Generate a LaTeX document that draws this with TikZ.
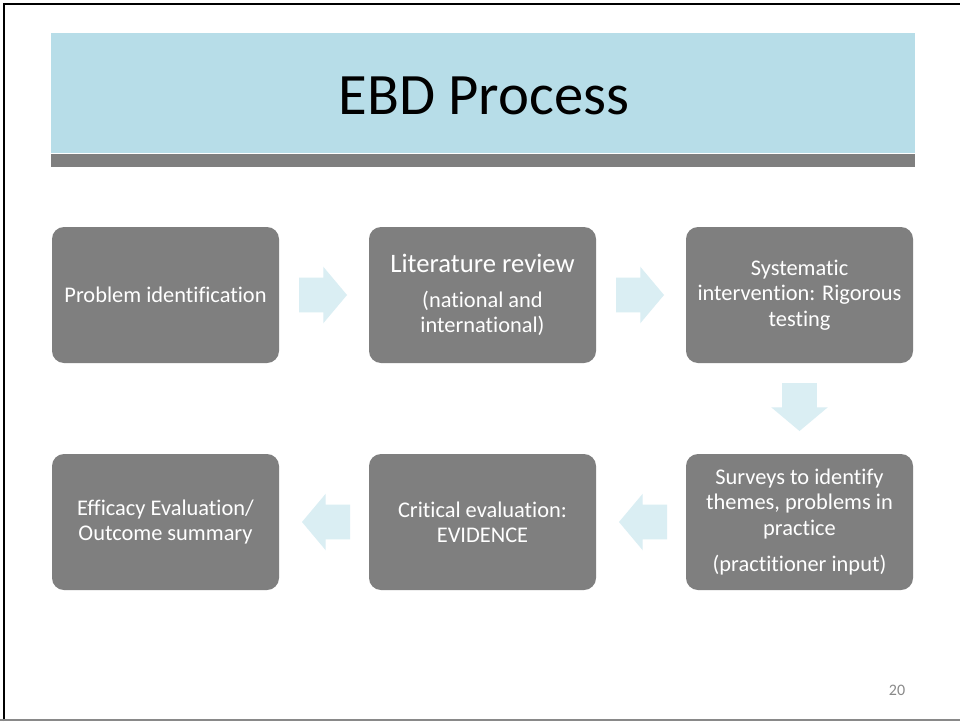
\documentclass[tikz,border=0pt]{standalone}
\usepackage{fontspec}
\setmainfont{Carlito}[Ligatures=NoCommon]
\usepackage{tikz}
\usetikzlibrary{shapes.arrows,positioning,calc}
\definecolor{titlebar}{RGB}{183,221,232}
\definecolor{steelgray}{RGB}{127,127,127}
\definecolor{flowblue}{RGB}{218,238,243}
\definecolor{pagegray}{RGB}{137,137,137}

\tikzset{
  stepbox/.style={fill=steelgray, rounded corners=9pt, text=white,
    minimum width=170.25pt, minimum height=102pt, inner sep=2pt, outer sep=0pt,
    align=center, font=\fontsize{16.8}{19}\selectfont},
  flowarrow/.style={single arrow, fill=flowblue, minimum height=36pt,
    single arrow head extend=8.25pt, single arrow tip angle=100,
    inner xsep=0pt, inner ysep=12.75pt, outer sep=0pt, anchor=tail}
}

\begin{document}
\begin{tikzpicture}[x=0.75pt, y=-0.75pt, node distance=68.25pt and 67.5pt]
  \useasboundingbox (0,0) rectangle (960,721);

  % ========== SLIDE FRAME ==========
  \fill[white] (0,0) rectangle (960,721);
  \draw[black, line width=2pt] (4,721) -- (4,4) -- (960,4);
  \draw[pagegray, line width=1.2pt] (0,720) -- (960,720);

  % ========== TITLE BAR ==========
  \fill[titlebar] (51,33) rectangle (915,153);
  \fill[steelgray] (51,154) rectangle (915,167);
  \node[font=\fontsize{44}{52}\selectfont] (title) at (484,96) {EBD Process};

  % ========== STEPS (top row) ==========
  \node[stepbox] (problem) at (165.5,295) {Problem identification};
  \node[stepbox, right=of problem] (litreview) {%
    {\fontsize{20}{24}\selectfont Literature review}\\[7pt]
    (national and\\ international)};
  \node[stepbox, right=of litreview] (systematic)
    {Systematic\\ intervention: Rigorous\\ testing};

  % ========== STEPS (bottom row) ==========
  \node[stepbox, below=of systematic] (surveys)
    {Surveys to identify\\ themes, problems in\\ practice\\[8pt]
     (practitioner input)};
  \node[stepbox, left=of surveys] (critical)
    {Critical evaluation:\\ EVIDENCE};
  \node[stepbox, left=of critical] (efficacy)
    {Efficacy Evaluation/\\ Outcome summary};

  % ========== BLOCK ARROWS ==========
  \node[flowarrow] (arrA) at ($(problem.east)+(20,0)$) {};
  \node[flowarrow] (arrB) at ($(litreview.east)+(20,0)$) {};
  \node[flowarrow, rotate=-90] (arrC) at ($(systematic.south)+(0,20)$) {};
  \node[flowarrow, rotate=180] (arrD) at ($(surveys.west)+(-19,0)$) {};
  \node[flowarrow, rotate=180] (arrE) at ($(critical.west)+(-19,0)$) {};

  % Page number
  \node[pagegray, font=\fontsize{12}{14}\selectfont] (pagenum) at (897,690) {20};
\end{tikzpicture}
\end{document}
